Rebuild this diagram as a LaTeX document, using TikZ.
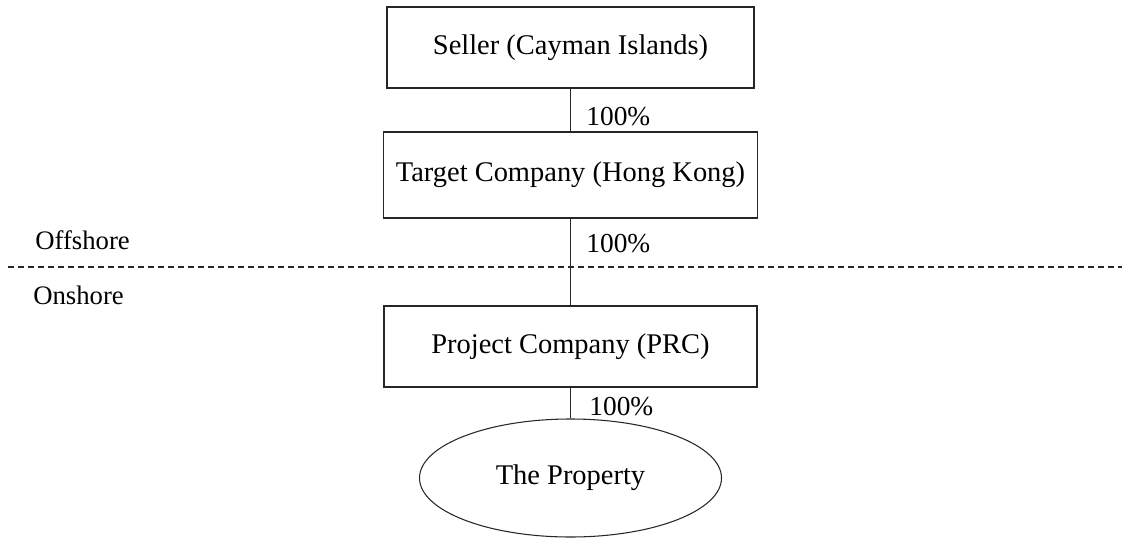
\documentclass[tikz,border=0pt]{standalone}
\usepackage{fontspec}
\setmainfont{Liberation Serif}
\usetikzlibrary{shapes.geometric}
\tikzstyle{company}=[draw=black!85,line width=0.6pt,rectangle,inner sep=0pt,minimum height=1.62cm,font=\fontsize{16.2}{19}\selectfont]
\tikzstyle{asset}=[draw=black!85,line width=0.6pt,ellipse,inner sep=0pt,minimum width=6.04cm,minimum height=2.36cm,font=\fontsize{16.2}{19}\selectfont]
\tikzstyle{share}=[inner sep=0pt,anchor=west,font=\fontsize{15.6}{18}\selectfont]
\tikzstyle{side}=[inner sep=0pt,anchor=west,font=\fontsize{15.2}{18}\selectfont]
\tikzstyle{owns}=[draw=black!85,line width=0.6pt]
\tikzstyle{border}=[draw=black!85,line width=0.6pt,dash pattern=on 0.12cm off 0.08cm]

\begin{document}
\begin{tikzpicture}
                  \useasboundingbox (0,0) rectangle (22.44,10.76);

                  \node (seller) at (11.41,9.81) [company,minimum width=7.34cm] {Seller (Cayman Islands)};
                  \node (target) at (11.41,7.26) [company,minimum width=7.48cm,minimum height=1.72cm] {Target Company (Hong Kong)};
                  \node (project) at (11.41,3.83) [company,minimum width=7.46cm] {Project Company (PRC)};
                  \node (property) at (11.41,1.2) [asset] {The Property};

                  \node (s1) at (11.72,8.43) [share] {100\%};
                  \node (s2) at (11.72,5.88) [share] {100\%};
                  \node (s3) at (11.78,2.63) [share] {100\%};

                  \node (off) at (0.70,5.96) [side] {Offshore};
                  \node (on) at (0.66,4.86) [side] {Onshore};

                  \coordinate (b1) at (0.16,5.42);
                  \coordinate (b2) at (22.44,5.42);
                  \draw [border] (b1) -- (b2);

                  \draw [owns] (seller) -- (target);
                  \draw [owns] (target) -- (project);
                  \draw [owns] (project) -- (property);
              \end{tikzpicture}
\end{document}
